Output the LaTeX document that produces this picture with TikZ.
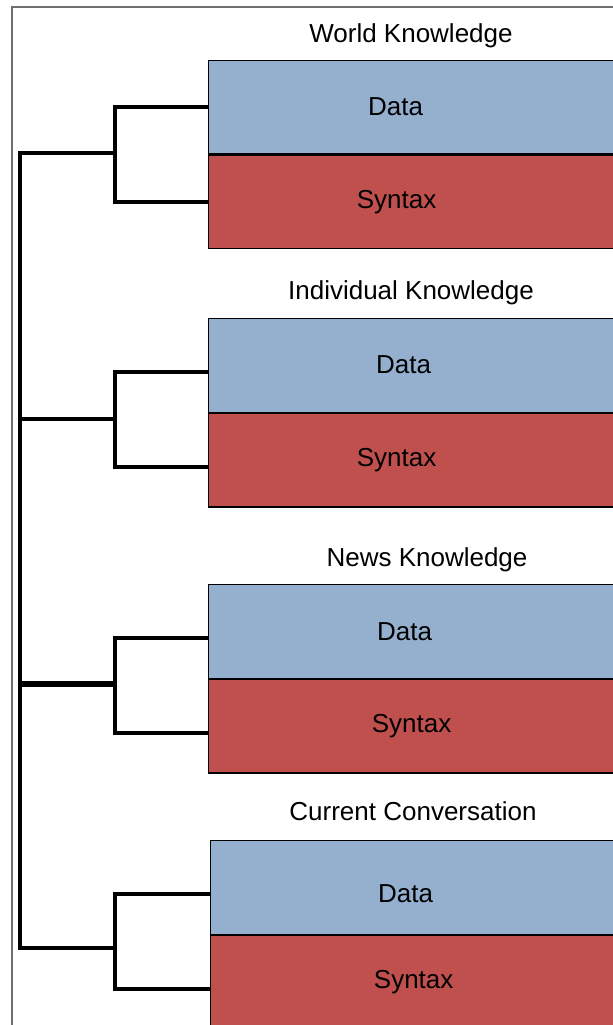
\documentclass[tikz,border=0pt]{standalone}
\usepackage{fontspec}
\setmainfont{Liberation Sans}
\usetikzlibrary{positioning}
\definecolor{DataBlue}{RGB}{149,176,207}
\definecolor{SyntaxRed}{RGB}{192,80,77}
\definecolor{FrameGray}{RGB}{110,110,110}

\begin{document}
\begin{tikzpicture}[x=0.5pt,y=-0.5pt,font=\fontsize{13}{15}\selectfont,
  databox/.style={draw=black,line width=0.65pt,fill=DataBlue,minimum width=210pt,minimum height=46.75pt,inner sep=0pt,anchor=north west},
  syntaxbox/.style={draw=black,line width=0.65pt,fill=SyntaxRed,minimum width=210pt,minimum height=46.75pt,inner sep=0pt},
  tree/.style={line width=2pt}]

\useasboundingbox (0,0) rectangle (613,1025);
\clip (0,0) rectangle (613,1025);
\draw[FrameGray,line width=0.6pt] (12,7) rectangle (640,1040);

% one knowledge store per row
\foreach \n/\yt/\xl/\title/\tx/\ty/\dx/\dy/\sx/\by/\sh in {
  1/59.5/208/World Knowledge/411/36/-11.5pt/0pt/-11pt/153/0pt,
  2/318/208/Individual Knowledge/411/293/-7.5pt/0.5pt/-11pt/419/-3.5pt,
  3/584/208/News Knowledge/427/560/-7pt/0pt/-3.5pt/684/-3.5pt,
  4/840/210/Current Conversation/413/811/-7.5pt/-3pt/-3.5pt/948/-3.5pt}{
  \node (title\n) at (\tx,\ty) {\title};
  \node[databox,label={[xshift=\dx,yshift=\dy]center:Data}] (data\n) at (\xl,\yt) {};
  \node[syntaxbox,below=0pt of data\n,label={[xshift=\sx]center:Syntax}] (syntax\n) {};
  \coordinate (j\n) at (115,\by);
  \coordinate (r\n) at (20,\by);
  \draw[tree] ([yshift=\sh]data\n.west) -| (j\n) |- ([yshift=\sh]syntax\n.west);
}

\draw[tree] (j1) -- (r1) -- (r4) -- (j4);
\draw[tree] (j2) -- (r2);
\draw[tree,line width=3pt] (j3) -- (r3);

\end{tikzpicture}
\end{document}
